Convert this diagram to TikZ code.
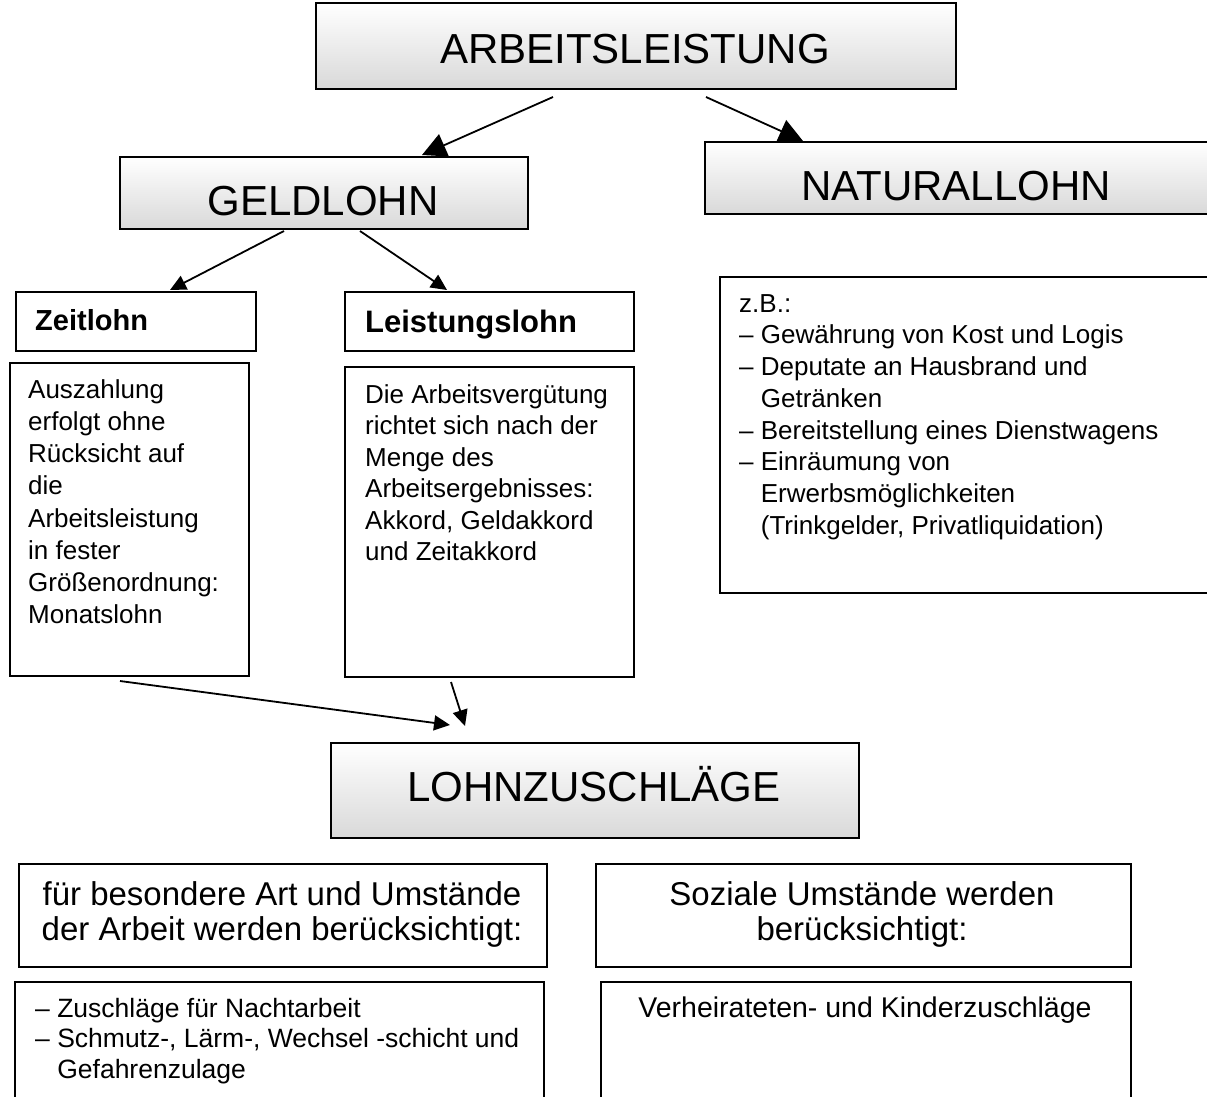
\documentclass[tikz,border=0pt]{standalone}
\usepackage{fontspec}
\setmainfont{Liberation Sans}
\usetikzlibrary{arrows.meta,shadings}

\begin{document}
\begin{tikzpicture}[x=1pt,y=-1pt,
  box/.style={draw=black,line width=1.8pt,inner sep=0pt,anchor=north west},
  titlebox/.style={box,top color=white,bottom color=black!15},
  titletext/.style={inner sep=0pt,anchor=base,font=\fontsize{42}{48}\selectfont},
  headtext/.style={inner sep=0pt,anchor=base west},
  bodytext/.style={inner sep=0pt,anchor=north west,align=left},
  bigarrow/.style={line width=1.8pt,-{Triangle[length=24pt,width=24pt]}},
  smallarrow/.style={line width=1.8pt,-{Triangle[length=16pt,width=15pt]}}
]
\useasboundingbox (0,0) rectangle (1207,1096);

% --- title boxes with shading ---
\node[titlebox,minimum width=640pt,minimum height=86pt] (arb) at (315,2) {};
\node[titletext] (arbt) at (635,63) {ARBEITSLEISTUNG};

\node[titlebox,minimum width=408pt,minimum height=72pt] (geld) at (119,156) {};
\node[titletext] (geldt) at (323,215) {GELDLOHN};

\node[titlebox,minimum width=506pt,minimum height=72pt] (natur) at (704,141) {};
\node[titletext] (naturt) at (956,200) {NATURALLOHN};

\node[titlebox,minimum width=528pt,minimum height=95pt] (lohn) at (330,742) {};
\node[titletext] (lohnt) at (594,801) {LOHNZUSCHLÄGE};

% --- Zeitlohn / Leistungslohn headers ---
\node[box,minimum width=240pt,minimum height=59pt] (zeit) at (15,291) {};
\node[headtext,font=\fontsize{29}{34}\selectfont\bfseries] (zeitt) at (35,330) {Zeitlohn};

\node[box,minimum width=289pt,minimum height=59pt] (leist) at (344,291) {};
\node[headtext,font=\fontsize{31}{36}\selectfont\bfseries] (leistt) at (365,332) {Leistungslohn};

% --- description boxes ---
\node[box,minimum width=239pt,minimum height=313pt] (zeitb) at (9,362) {};
\node[bodytext,font=\fontsize{26}{32.2}\selectfont] (zeitbt) at (28,375.5)
  {\strut Auszahlung\\erfolgt ohne\\Rücksicht auf\\die\\Arbeitsleistung\\in fester\\Größenordnung:\\Monatslohn};

\node[box,minimum width=289pt,minimum height=310pt] (leistb) at (344,366) {};
\node[bodytext,font=\fontsize{26}{31.5}\selectfont] (leistbt) at (365,381)
  {\strut Die Arbeitsvergütung\\richtet sich nach der\\Menge des\\Arbeitsergebnisses:\\Akkord, Geldakkord\\und Zeitakkord};

\node[box,minimum width=491pt,minimum height=316pt] (naturb) at (719,276) {};
\node[bodytext,font=\fontsize{26}{31.7}\selectfont] (naturbt) at (739,289.8)
  {\strut z.B.:\\
   – Gewährung von Kost und Logis\\
   – Deputate an Hausbrand und\\
   \phantom{– }Getränken\\
   – Bereitstellung eines Dienstwagens\\
   – Einräumung von\\
   \phantom{– }Erwerbsmöglichkeiten\\
   \phantom{– }(Trinkgelder, Privatliquidation)};

% --- bottom boxes ---
\node[box,minimum width=528pt,minimum height=103pt] (art) at (18,863) {};
\node[bodytext,anchor=north,align=center,font=\fontsize{33}{35.5}\selectfont] (artt) at (282,880.2)
  {\strut für besondere Art und Umstände\\der Arbeit werden berücksichtigt:};

\node[box,minimum width=535pt,minimum height=103pt] (sozial) at (595,863) {};
\node[bodytext,anchor=north,align=center,font=\fontsize{33}{35.5}\selectfont] (sozialt) at (862,880.2)
  {\strut Soziale Umstände werden\\berücksichtigt:};

\node[box,minimum width=529pt,minimum height=125pt] (artl) at (14,981) {};
\node[bodytext,font=\fontsize{26.5}{30.5}\selectfont] (artlt) at (35,995.7)
  {\strut – Zuschläge für Nachtarbeit\\
   – Schmutz-, Lärm-, Wechsel -schicht und\\
   \phantom{– }Gefahrenzulage};

\node[box,minimum width=530pt,minimum height=125pt] (sozl) at (600,981) {};
\node[headtext,anchor=base,font=\fontsize{28.5}{33}\selectfont] (sozlt) at (865,1017)
  {Verheirateten- und Kinderzuschläge};

% --- connector end points ---
\coordinate (a1s) at (553,97);  \coordinate (a1e) at (422,155);
\coordinate (a2s) at (706,97);  \coordinate (a2e) at (803,141);
\coordinate (a3s) at (284,231); \coordinate (a3e) at (170,290);
\coordinate (a4s) at (360,231); \coordinate (a4e) at (447,290);
\coordinate (a5s) at (120,681); \coordinate (a5e) at (450,725);
\coordinate (a6s) at (451,682); \coordinate (a6e) at (465,726);

% --- connectors ---
\draw[bigarrow] (a1s) -- (a1e);
\draw[bigarrow] (a2s) -- (a2e);
\draw[smallarrow] (a3s) -- (a3e);
\draw[smallarrow] (a4s) -- (a4e);
\draw[smallarrow] (a5s) -- (a5e);
\draw[smallarrow] (a6s) -- (a6e);
\end{tikzpicture}
\end{document}
